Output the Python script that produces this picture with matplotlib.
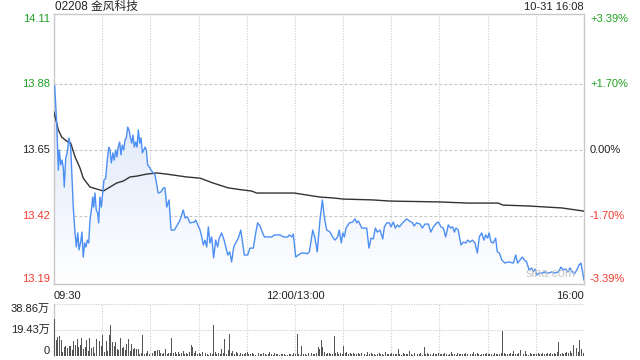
import numpy as np
import matplotlib
matplotlib.use("Agg")
import matplotlib.pyplot as plt
from matplotlib.colors import LinearSegmentedColormap
from matplotlib.patches import Polygon

plt.rcParams['font.family'] = ['Liberation Sans', 'Noto Sans CJK SC', 'DejaVu Sans']

# ---------------- data ----------------
title = "02208 金风科技"
stamp = "10-31 16:08"
prev_close = 13.65
price_ticks = [14.11, 13.88, 13.65, 13.42, 13.19]
pct_labels = ["+3.39%", "+1.70%", "0.00%", "-1.70%", "-3.39%"]
time_labels = ["09:30", "12:00/13:00", "16:00"]
vol_ticks = [38.86, 19.43, 0]
vol_labels = ["38.86万", "19.43万", "0"]

# minutes since 09:30 (lunch break removed, 0..330)
price_min = [0.4, 1.7, 2.7, 3.3, 4.2, 5.0, 5.8, 6.4, 7.3, 8.3, 9.3, 10.4, 11.2, 12.0, 13.1, 13.9,
             14.8, 15.6, 16.6, 17.4, 18.2, 19.1, 19.9, 20.7, 21.6, 22.4, 23.5, 24.1, 24.7, 25.5,
             26.3, 27.2, 27.8, 28.6, 29.5, 30.3, 31.1, 32.2, 33.0, 34.1, 34.9, 35.7, 36.7, 37.5,
             38.4, 39.2, 40.0, 40.9, 41.7, 42.5, 43.4, 44.2, 45.0, 45.9, 46.7, 47.5, 48.4, 49.2,
             50.0, 50.9, 51.7, 52.5, 53.4, 54.2, 55.0, 55.9, 56.7, 57.5, 58.3, 59.3, 60.4, 61.8,
             62.9, 64.9, 66.6, 68.1, 69.1, 70.2, 71.6, 72.9, 74.9, 76.4, 78.5, 80.5, 81.6, 83.0,
             84.7, 87.4, 88.2, 89.5, 90.9, 92.0, 93.0, 94.0, 95.1, 96.1, 97.1, 98.2, 99.4, 100.7,
             101.9, 102.9, 104.4, 105.9, 107.1, 108.2, 109.4, 110.6, 111.9, 113.1, 114.8, 116.3,
             117.2, 118.5, 120.6, 122.0, 124.1, 125.6, 126.8, 128.3, 129.7, 131.0, 135.6, 137.2,
             140.7, 142.8, 145.5, 146.5, 148.0, 149.0,
             150.5, 152.1, 154.2, 156.3, 157.7, 159.0, 161.1, 162.5, 163.9, 165.6, 167.1, 168.3,
             169.8, 171.9, 173.5, 175.0, 176.6, 177.6, 178.9, 179.8, 180.8, 181.8, 183.9, 186.0,
             187.4, 188.5, 189.5, 191.6, 194.7, 196.1, 197.4, 198.8, 200.1, 201.3, 203.0, 204.7,
             205.7, 207.2, 208.8, 209.8, 211.3, 212.5, 213.8, 215.0, 217.1, 219.6, 221.2, 223.3,
             224.2, 225.8, 227.9, 229.3, 231.0, 233.1, 234.6, 236.2, 238.3,
             239.3, 241.0, 242.4, 243.9, 245.5, 247.0, 248.3, 249.3, 250.3, 251.7, 253.4, 254.9,
             256.4, 257.6, 259.0, 260.5, 262.1, 263.6, 264.8, 266.3, 267.7, 268.8, 270.0, 270.9,
             272.1, 273.5, 275.0, 276.0, 277.3, 278.8, 280.8, 282.9, 286.0, 287.5, 288.7, 290.2,
             291.6, 292.8, 294.3, 295.8, 297.4, 298.4, 299.5, 300.6, 302.0, 303.7, 305.7, 307.8,
             309.9, 311.9, 314.0, 315.7, 317.1, 318.6, 319.9, 321.3, 322.7, 324.0, 325.5, 326.9,
             328.1, 328.9, 330.0]
price_val = [13.873, 13.744, 13.580, 13.650, 13.598, 13.615, 13.587, 13.521, 13.622, 13.643, 13.692,
             13.660, 13.556, 13.451, 13.361, 13.312, 13.361, 13.302, 13.329, 13.364, 13.277, 13.326,
             13.312, 13.336, 13.326, 13.406, 13.451, 13.486, 13.451, 13.500, 13.441, 13.430, 13.396,
             13.486, 13.451, 13.500, 13.545, 13.552, 13.605, 13.660, 13.650, 13.605, 13.640, 13.615,
             13.650, 13.626, 13.660, 13.678, 13.633, 13.667, 13.650, 13.685, 13.692, 13.730, 13.720,
             13.695, 13.674, 13.702, 13.660, 13.678, 13.660, 13.720, 13.674, 13.692, 13.640, 13.650,
             13.660, 13.650, 13.598, 13.591, 13.580, 13.570,
             13.563, 13.500, 13.504, 13.518, 13.518, 13.451, 13.476, 13.371, 13.371, 13.385, 13.406,
             13.441, 13.413, 13.417, 13.396, 13.399, 13.406, 13.389, 13.371, 13.347, 13.319, 13.336,
             13.312, 13.382, 13.326, 13.347, 13.274, 13.336, 13.312, 13.343, 13.361, 13.336, 13.308,
             13.284, 13.295, 13.260, 13.312, 13.326, 13.343, 13.371, 13.336, 13.284, 13.284, 13.308,
             13.308, 13.361, 13.396, 13.385, 13.364, 13.347, 13.347, 13.354, 13.354, 13.347, 13.347,
             13.354, 13.347, 13.357,
             13.277, 13.284, 13.291, 13.291, 13.288, 13.295, 13.371, 13.343, 13.295, 13.406, 13.476,
             13.417, 13.371, 13.364, 13.347, 13.336, 13.347, 13.371, 13.326, 13.361, 13.347, 13.378,
             13.396, 13.399, 13.410, 13.396, 13.403, 13.378, 13.378, 13.308, 13.343, 13.340, 13.378,
             13.364, 13.371, 13.340, 13.382, 13.396, 13.396, 13.382, 13.399, 13.378, 13.389, 13.382,
             13.396, 13.410, 13.403, 13.396, 13.385, 13.396, 13.392, 13.378, 13.392, 13.392, 13.364,
             13.382, 13.396,
             13.399, 13.382, 13.378, 13.347, 13.389, 13.378, 13.382, 13.364, 13.378, 13.371, 13.319,
             13.329, 13.326, 13.336, 13.329, 13.336, 13.326, 13.291, 13.347, 13.361, 13.336, 13.354,
             13.343, 13.361, 13.329, 13.326, 13.343, 13.295, 13.291, 13.267, 13.256, 13.260, 13.256,
             13.284, 13.256, 13.267, 13.277, 13.267, 13.260, 13.232, 13.239, 13.225, 13.235, 13.214,
             13.221, 13.221, 13.225, 13.221, 13.225, 13.221, 13.225, 13.242, 13.232, 13.235, 13.225,
             13.239, 13.225, 13.218, 13.232, 13.249, 13.256, 13.232, 13.197]

avg_min = [0, 2.7, 4.8, 7.9, 10.4, 13.1, 16.2, 18.2, 22.4, 26.6, 30.7, 34.9, 39.0, 43.2, 47.3,
           51.5, 57.7, 63.9, 70.2, 82.6, 90.9, 99.0, 108.5, 115.8, 123.1, 126.2, 149.6, 165.6,
           173.7, 180.0, 198.6, 209.2, 240.3, 257.8, 276.5, 279.6, 295.1, 316.3, 330]
avg_val = [13.782, 13.720, 13.695, 13.681, 13.674, 13.626, 13.587, 13.552, 13.521, 13.514, 13.507,
           13.521, 13.535, 13.542, 13.556, 13.559, 13.566, 13.570, 13.566, 13.556, 13.552, 13.535,
           13.518, 13.512, 13.507, 13.500, 13.500, 13.486, 13.483, 13.479, 13.476, 13.472, 13.469,
           13.465, 13.465, 13.458, 13.455, 13.448, 13.437]

# volume per minute (万股), minutes 0..330
volume = [27.4, 12.2, 14.0, 15.0, 12.2, 3.0, 6.9, 7.6, 5.8, 7.6,
          7.6, 4.6, 10.9, 8.4, 12.7, 6.4, 8.1, 13.5, 5.0, 6.4,
          12.2, 3.8, 13.2, 5.8, 6.9, 2.5, 12.7, 4.6, 10.9, 7.6,
          16.0, 3.0, 10.9, 3.8, 16.0, 22.9, 10.2, 7.6, 10.2, 5.6,
          4.3, 13.5, 5.8, 6.4, 4.3, 8.9, 12.7, 3.5, 8.9, 5.6,
          5.8, 5.0, 5.0, 1.3, 2.0, 16.0, 1.3, 2.5, 3.8, 1.3,
          4.6, 2.0, 3.8, 3.8, 4.6, 4.6, 2.0, 1.3, 2.5, 5.0,
          1.3, 2.0, 2.5, 13.2, 2.0, 3.0, 1.5, 2.8, 1.2, 2.5,
          3.8, 1.8, 2.2, 1.5, 3.0, 8.1, 6.4, 2.0, 3.8, 1.5,
          2.5, 1.8, 3.0, 1.2, 2.0, 1.5, 1.0, 2.2, 1.8, 23.0,
          3.0, 1.5, 2.0, 1.2, 5.0, 2.0, 13.0, 1.5, 4.6, 16.5,
          2.0, 3.5, 1.5, 3.0, 2.2, 1.0, 2.5, 1.8, 1.2, 2.0,
          3.0, 1.5, 1.2, 2.5, 1.5, 1.0, 18.5, 2.0, 1.5, 1.2,
          2.5, 1.8, 1.0, 1.2, 3.0, 1.5, 1.0, 2.0, 1.2, 1.5,
          1.0, 1.8, 1.2, 1.5, 1.0, 0.8, 1.2, 1.5, 1.0, 2.0,
          1.5, 16.5, 1.2, 1.0, 7.6, 1.5, 1.8, 1.0, 2.0, 1.2,
          2.5, 1.5, 1.8, 2.0, 6.4, 5.0, 12.2, 6.4, 3.0, 1.5,
          2.5, 2.0, 1.2, 1.8, 14.7, 2.5, 3.0, 1.5, 2.0, 1.8,
          7.6, 2.0, 3.0, 1.5, 2.2, 1.2, 2.5, 1.8, 1.5, 2.0,
          1.2, 2.5, 1.5, 1.8, 1.0, 3.0, 1.5, 2.0, 1.2, 1.5,
          1.0, 1.8, 2.5, 1.2, 1.5, 1.0, 3.0, 1.8, 1.2, 1.5,
          2.0, 1.5, 1.2, 1.8, 5.0, 1.5, 1.0, 2.5, 1.2, 1.8,
          1.5, 3.5, 1.2, 1.0, 2.0, 1.5, 1.2, 1.8, 2.5, 1.0,
          6.4, 1.5, 2.0, 1.2, 1.8, 1.0, 2.5, 1.5, 1.2, 2.0,
          1.8, 1.5, 1.2, 2.2, 1.5, 1.0, 1.8, 3.0, 1.2, 1.5,
          1.0, 2.0, 1.5, 1.2, 1.8, 1.5, 2.5, 1.2, 1.0, 1.8,
          1.5, 3.0, 1.2, 2.5, 1.5, 1.0, 1.8, 1.2, 1.5, 2.2,
          1.8, 1.2, 1.5, 1.0, 2.0, 1.5, 1.2, 1.8, 2.5, 19.0,
          2.0, 1.5, 1.8, 1.2, 2.5, 1.5, 3.5, 1.2, 1.8, 2.0,
          4.6, 1.5, 1.2, 4.0, 1.8, 1.0, 2.5, 1.5, 1.2, 1.8,
          1.5, 2.0, 1.2, 1.5, 2.2, 1.8, 1.2, 2.5, 1.5, 2.0,
          1.8, 2.5, 1.5, 3.0, 10.7, 1.5, 2.0, 1.2, 2.5, 3.0,
          2.0, 3.5, 2.5, 8.1, 4.0, 6.3, 3.0, 12.2, 5.0, 2.5,
          38.1]

# ---------------- style ----------------
GREEN = "#1fa01f"
RED = "#f03a2e"
BLACK = "#222222"
BLUE = "#4d8ff2"
GRID = "#cccccc"
FRAME = "#c8c8c8"
label_colors = [GREEN, GREEN, BLACK, RED, RED]

W, H = 640, 360
fig = plt.figure(figsize=(6.4, 3.6), dpi=100)
fig.patch.set_facecolor("white")

def fx(px):
    return px / W

def fy(py):
    return 1 - py / H

ax = fig.add_axes([fx(54), fy(284), fx(530), 270 / H])
axv = fig.add_axes([fx(54), fy(356), fx(530), 52 / H])

ylo, yhi = 13.183, 14.124
ax.set_xlim(0, 330)
ax.set_ylim(ylo, yhi)
for a in (ax, axv):
    a.set_xticks([])
    a.set_yticks([])
    for s in a.spines.values():
        s.set_color(FRAME)
        s.set_linewidth(1.0)

# grid
for m in range(30, 330, 30):
    ax.axvline(m, color=GRID, lw=0.8, ls=(0, (1, 1.5)), zorder=1)
    axv.axvline(m, color=GRID, lw=0.8, ls=(0, (1, 1.5)), zorder=1)
for v in price_ticks[1:4]:
    ax.axhline(v, color="#c4c4c4", lw=0.8, ls=(0, (2.5, 2)), zorder=1)

# gradient fill under price line
pm = np.array(price_min)
pv = np.array(price_val)
cmap = LinearSegmentedColormap.from_list("f", ["#ffffff", "#dbe6fa"])
grad = np.linspace(0, 1, 256).reshape(-1, 1)
im = ax.imshow(grad, extent=[0, 330, ylo, pv.max()], origin="lower", aspect="auto",
               cmap=cmap, zorder=2)
verts = np.vstack([[pm[0], ylo], np.column_stack([pm, pv]), [pm[-1], ylo]])
poly = Polygon(verts, closed=True, facecolor="none", edgecolor="none")
ax.add_patch(poly)
im.set_clip_path(poly)
ax.set_xlim(0, 330)
ax.set_ylim(ylo, yhi)

ax.plot(pm, pv, color=BLUE, lw=1.0, zorder=4)
ax.plot(avg_min, avg_val, color="#333333", lw=1.0, zorder=3)

ax.text(0.985, 0.015, "sina.com", transform=ax.transAxes, ha="right", va="bottom",
        fontsize=9, color="#c8c8c8", zorder=5)

# price / pct labels
for i, (v, lab, col) in enumerate(zip(price_ticks, pct_labels, label_colors)):
    if i == 0:
        yy, va = yhi, "top"
    elif i == len(price_ticks) - 1:
        yy, va = ylo, "bottom"
    else:
        yy, va = v, "center"
    ax.text(-4 / 530 * 330, yy, f"{v:.2f}", ha="right", va=va, fontsize=8, color=col)
    ax.text(330 + 6 / 530 * 330, yy, lab, ha="left", va=va, fontsize=8, color=col)

# time labels
ax.text(0, -0.025, time_labels[0], transform=ax.transAxes, ha="left", va="top", fontsize=8, color=BLACK)
ax.text(150 / 330, -0.025, time_labels[1], transform=ax.transAxes, ha="center", va="top", fontsize=8, color=BLACK)
ax.text(1, -0.025, time_labels[2], transform=ax.transAxes, ha="right", va="top", fontsize=8, color=BLACK)

# title and stamp
fig.text(fx(55), fy(7), title, ha="left", va="center", fontsize=8.5, color=BLACK)
fig.text(fx(584), fy(7), stamp, ha="right", va="center", fontsize=8, color=BLACK)

# volume
vm = np.arange(len(volume)) + 0.4
axv.bar(vm, volume, width=0.6, color="#555555", zorder=3)
axv.set_xlim(0, 330)
axv.set_ylim(0, 38.86)
axv.spines["top"].set_visible(False)
axv.spines["right"].set_visible(False)
axv.spines["bottom"].set_visible(False)
axv.axhline(38.86, color=GRID, lw=0.8, ls=(0, (1, 1.2)), zorder=1)
axv.axhline(19.43, color=GRID, lw=0.8, ls=(0, (1, 1.2)), zorder=1)
for i, (v, lab) in enumerate(zip(vol_ticks, vol_labels)):
    va = "top" if i == 0 else ("bottom" if i == len(vol_ticks) - 1 else "center")
    axv.text(-4 / 530 * 330, v, lab, ha="right", va=va, fontsize=8, color=BLACK)

fig.savefig("out.png", dpi=100, facecolor="white")
